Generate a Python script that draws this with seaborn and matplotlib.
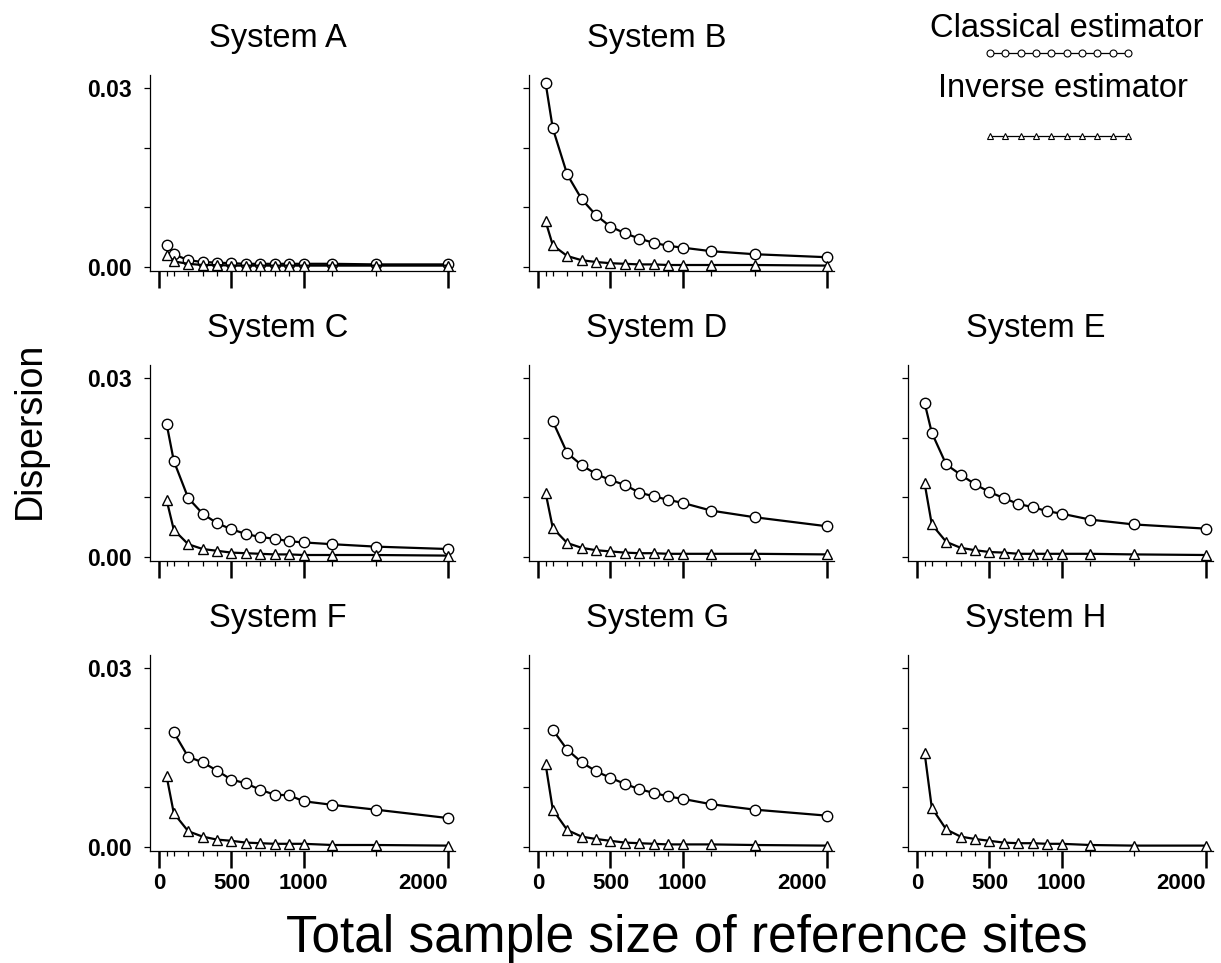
import numpy as np
import pandas as pd
import matplotlib
matplotlib.use("Agg")
import matplotlib.pyplot as plt
from matplotlib.lines import Line2D
import seaborn as sns

# ---------------- data ----------------
sample_sizes = [50, 100, 200, 300, 400, 500, 600, 700, 800, 900, 1000, 1200, 1500, 2000]
systems = ["A", "B", "C", "D", "E", "F", "G", "H"]
nan = np.nan

classical_A = [0.0037, 0.0022, 0.0012, 0.0009, 0.0008, 0.0007, 0.0006, 0.0006, 0.0006, 0.0006, 0.0006, 0.0006, 0.0005, 0.0005]
inverse_A   = [0.0021, 0.0010, 0.0006, 0.0004, 0.0004, 0.0003, 0.0003, 0.0003, 0.0003, 0.0003, 0.0003, 0.0003, 0.0003, 0.0003]

classical_B = [0.0308, 0.0232, 0.0155, 0.0114, 0.0087, 0.0068, 0.0057, 0.0048, 0.0041, 0.0036, 0.0033, 0.0027, 0.0022, 0.0017]
inverse_B   = [0.0077, 0.0037, 0.0019, 0.0012, 0.0009, 0.0007, 0.0006, 0.0005, 0.0005, 0.0004, 0.0004, 0.0004, 0.0004, 0.0003]

classical_C = [0.0223, 0.0161, 0.0099, 0.0073, 0.0057, 0.0047, 0.0039, 0.0034, 0.0031, 0.0027, 0.0025, 0.0022, 0.0018, 0.0014]
inverse_C   = [0.0096, 0.0046, 0.0022, 0.0014, 0.0011, 0.0008, 0.0007, 0.0006, 0.0005, 0.0005, 0.0004, 0.0004, 0.0004, 0.0003]

classical_D = [nan, 0.0227, 0.0174, 0.0154, 0.0139, 0.0129, 0.0121, 0.0108, 0.0102, 0.0096, 0.0091, 0.0078, 0.0067, 0.0052]
inverse_D   = [0.0108, 0.0049, 0.0024, 0.0016, 0.0012, 0.0010, 0.0008, 0.0007, 0.0007, 0.0006, 0.0006, 0.0006, 0.0006, 0.0005]

classical_E = [0.0258, 0.0208, 0.0155, 0.0138, 0.0122, 0.0109, 0.0099, 0.0089, 0.0084, 0.0077, 0.0073, 0.0063, 0.0055, 0.0048]
inverse_E   = [0.0124, 0.0055, 0.0026, 0.0016, 0.0012, 0.0009, 0.0008, 0.0006, 0.0006, 0.0006, 0.0006, 0.0006, 0.0005, 0.0004]

classical_F = [nan, 0.0192, 0.0151, 0.0142, 0.0128, 0.0113, 0.0107, 0.0096, 0.0088, 0.0087, 0.0077, 0.0071, 0.0063, 0.0049]
inverse_F   = [0.0119, 0.0057, 0.0027, 0.0018, 0.0013, 0.0011, 0.0008, 0.0007, 0.0006, 0.0006, 0.0006, 0.0004, 0.0004, 0.0003]

classical_G = [nan, 0.0196, 0.0163, 0.0142, 0.0127, 0.0116, 0.0106, 0.0097, 0.0091, 0.0085, 0.0081, 0.0072, 0.0063, 0.0053]
inverse_G   = [0.0139, 0.0063, 0.0029, 0.0018, 0.0014, 0.0011, 0.0008, 0.0007, 0.0006, 0.0005, 0.0005, 0.0005, 0.0004, 0.0003]

classical_H = [nan] * 14
inverse_H   = [0.0158, 0.0066, 0.0030, 0.0018, 0.0014, 0.0011, 0.0008, 0.0007, 0.0007, 0.0006, 0.0006, 0.0004, 0.0003, 0.0003]

classical = {"A": classical_A, "B": classical_B, "C": classical_C, "D": classical_D,
             "E": classical_E, "F": classical_F, "G": classical_G, "H": classical_H}
inverse = {"A": inverse_A, "B": inverse_B, "C": inverse_C, "D": inverse_D,
           "E": inverse_E, "F": inverse_F, "G": inverse_G, "H": inverse_H}

x_major = [0, 500, 1000, 2000]
x_major_labels = ["0", "500", "1000", "2000"]
y_ticks = [0.0, 0.01, 0.02, 0.03]
y_tick_labels = ["0.00", "", "", "0.03"]

# long-form table
rows = []
for s in systems:
    for n, c, i in zip(sample_sizes, classical[s], inverse[s]):
        rows.append({"system": s, "n": n, "estimator": "Classical", "value": c})
        rows.append({"system": s, "n": n, "estimator": "Inverse", "value": i})
df = pd.DataFrame(rows).dropna()

# ---------------- style ----------------
sns.set_theme(style="ticks")
plt.rcParams["font.family"] = ["Liberation Sans", "DejaVu Sans"]
plt.rcParams["text.color"] = "black"
plt.rcParams["axes.labelcolor"] = "black"
plt.rcParams["xtick.color"] = "black"
plt.rcParams["ytick.color"] = "black"

W, H = 1221, 963
fig = plt.figure(figsize=(W / 100, H / 100), dpi=100)

col_left = [150, 529, 908]
row_top = [75, 365, 655]
ax_w, ax_h = 305, 196

positions = {"A": (0, 0), "B": (0, 1), "C": (1, 0), "D": (1, 1), "E": (1, 2),
             "F": (2, 0), "G": (2, 1), "H": (2, 2)}

x_minor = [n for n in sample_sizes if n not in x_major]

for s in systems:
    r, c = positions[s]
    l, t = col_left[c], row_top[r]
    ax = fig.add_axes([l / W, 1 - (t + ax_h) / H, ax_w / W, ax_h / H])
    sub = df[df.system == s]
    sub_c = sub[sub.estimator == "Classical"]
    sub_i = sub[sub.estimator == "Inverse"]
    if len(sub_c):
        sns.lineplot(data=sub_c, x="n", y="value", ax=ax, estimator=None, color="black",
                     lw=1.6, marker="o", ms=7.5, mfc="white", mec="black", mew=1.0, zorder=3)
    sns.lineplot(data=sub_i, x="n", y="value", ax=ax, estimator=None, color="black",
                 lw=1.6, marker="^", ms=7.5, mfc="white", mec="black", mew=1.0, zorder=4)
    ax.set_xlim(-65, 2050)
    ax.set_ylim(-0.0006, 0.0321)
    sns.despine(ax=ax)
    for sp in ["left", "bottom"]:
        ax.spines[sp].set_linewidth(0.9)
        ax.spines[sp].set_color("black")
    ax.set_xticks(x_major)
    ax.set_xticks(x_minor, minor=True)
    ax.set_yticks(y_ticks)
    ax.tick_params(axis="x", which="major", direction="out", length=12, width=1.8,
                   color="black", pad=4, labelsize=16)
    ax.tick_params(axis="x", which="minor", direction="out", length=3.5, width=0.9, color="black")
    ax.tick_params(axis="y", which="major", direction="out", length=4, width=0.9,
                   color="black", pad=9, labelsize=16.5)
    if r == 2:
        ax.set_xticklabels(x_major_labels, fontweight="bold")
        ax.get_xticklabels()[-1].set_horizontalalignment("right")
    else:
        ax.set_xticklabels([])
    if c == 0:
        ax.set_yticklabels(y_tick_labels, fontweight="bold")
    else:
        ax.set_yticklabels([])
    ax.set_xlabel("")
    ax.set_ylabel("")
    ax.text(0.42, 1 + 28 / ax_h, f"System {s}", transform=ax.transAxes,
            ha="center", va="baseline", fontsize=23.5)

# axis labels
fig.text(687 / W, 1 - 938 / H, "Total sample size of reference sites",
         ha="center", va="center", fontsize=37)
fig.text(30 / W, 1 - 430 / H, "Dispersion", ha="center", va="center",
         rotation=90, fontsize=27)

# legend (top right)
fig.text(1067 / W, 1 - 37 / H, "Classical estimator", ha="center", va="baseline", fontsize=23.5)
fig.text(1063 / W, 1 - 97 / H, "Inverse estimator", ha="center", va="baseline", fontsize=23.5)
lx = np.linspace(990, 1128, 10) / W
fig.lines.append(Line2D(lx, [1 - 53 / H] * 10, transform=fig.transFigure, color="black",
                        lw=0.9, marker="o", ms=5, mfc="white", mec="black", mew=0.8))
fig.lines.append(Line2D(lx, [1 - 136 / H] * 10, transform=fig.transFigure, color="black",
                        lw=0.9, marker="^", ms=5, mfc="white", mec="black", mew=0.8))

fig.savefig("out.png", dpi=100, facecolor="white")
